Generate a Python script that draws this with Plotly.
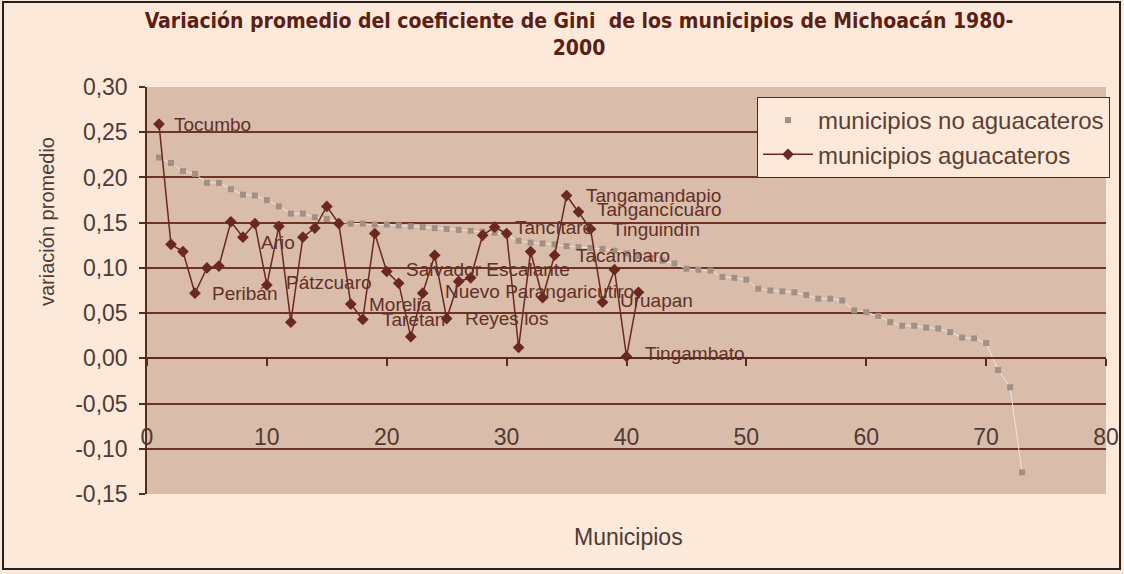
import plotly.graph_objects as go

# ---------------- data ----------------
avo_x = list(range(1, 42))
avo_y = [0.259, 0.126, 0.118, 0.072, 0.100, 0.102, 0.151, 0.134, 0.149, 0.081,
         0.146, 0.040, 0.134, 0.144, 0.168, 0.149, 0.060, 0.043, 0.138, 0.096,
         0.083, 0.024, 0.072, 0.114, 0.044, 0.085, 0.089, 0.136, 0.145, 0.138,
         0.012, 0.118, 0.067, 0.114, 0.180, 0.162, 0.143, 0.062, 0.098, 0.002,
         0.073]

noavo_x = list(range(1, 74))
noavo_y = [0.222, 0.216, 0.207, 0.204, 0.194, 0.194, 0.187, 0.181, 0.180, 0.175,
           0.168, 0.160, 0.160, 0.156, 0.154, 0.151, 0.149, 0.149, 0.148, 0.148,
           0.147, 0.146, 0.145, 0.144, 0.143, 0.142, 0.141, 0.140, 0.139, 0.136,
           0.130, 0.128, 0.127, 0.126, 0.124, 0.123, 0.122, 0.121, 0.119, 0.116,
           0.113, 0.111, 0.108, 0.105, 0.099, 0.098, 0.097, 0.090, 0.089, 0.087,
           0.077, 0.075, 0.074, 0.073, 0.070, 0.066, 0.066, 0.064, 0.053, 0.051,
           0.047, 0.040, 0.036, 0.036, 0.034, 0.033, 0.029, 0.023, 0.022, 0.017,
           -0.013, -0.032, -0.126]

# municipality names attached to avocado points (point number -> name)
label_points = [1, 4, 9, 10, 17, 18, 20, 23, 25, 29, 35, 36, 37, 34, 38, 40]
label_names = ["Tocumbo", "Peribán", "Ario", "Pátzcuaro", "Morelia", "Taretan",
               "Salvador Escalante", "Nuevo Parangaricutiro", "Reyes los",
               "Tancítaro", "Tangamandapio", "Tangancícuaro", "Tinguindín",
               "Tacámbaro", "Uruapan", "Tingambato"]

y_ticks = [-0.15, -0.10, -0.05, 0.00, 0.05, 0.10, 0.15, 0.20, 0.25, 0.30]
x_ticks = [0, 10, 20, 30, 40, 50, 60, 70, 80]

series_names = ["municipios no aguacateros", "municipios aguacateros"]
title_text = "Variación promedio del coeficiente de Gini  de los municipios de Michoacán 1980-<br>2000"
y_title = "variación promedio"
x_title = "Municipios"

# ---------------- style / layout ----------------
W, H = 1124, 574
ML, MR, MT, MB = 147, 18, 87, 80
PW, PH = W - ML - MR, H - MT - MB

PAPER = "#fde9d9"
PLOT = "#d9bcaa"
GRID = "#6e3426"
DARK = "#5a2a20"
AVO = "#6b2820"
GREY = "#a28f86"
TXT = "#4d3b35"
LBL = "#633027"
FONT = "Liberation Sans, Arial, sans-serif"
TFONT = "Liberation Sans Narrow, Arial Narrow, DejaVu Sans Condensed, Liberation Sans, sans-serif"

# per-label pixel offsets (text left edge relative to its point)
label_offsets = {
    "Tocumbo": (13, 0), "Peribán": (15, 0), "Ario": (4, -19), "Pátzcuaro": (17, 3),
    "Morelia": (16, 0), "Taretan": (17, 0), "Salvador Escalante": (17, 2),
    "Nuevo Parangaricutiro": (20, 2), "Reyes los": (16, 0), "Tancítaro": (18, 0),
    "Tangamandapio": (17, 0), "Tangancícuaro": (16, 2), "Tinguindín": (19, 0),
    "Tacámbaro": (19, 0), "Uruapan": (15, 2), "Tingambato": (16, 3),
}

def px_x(px):
    return (px - ML) / PW

def px_y(py):
    return (H - MB - py) / PH

fig = go.Figure()

fig.add_trace(go.Scatter(
    x=noavo_x, y=noavo_y, name=series_names[0], mode="lines+markers",
    line=dict(color="#f4e4d8", width=1),
    marker=dict(symbol="square", size=6, color=GREY),
))
fig.add_trace(go.Scatter(
    x=avo_x, y=avo_y, name=series_names[1], mode="lines+markers",
    line=dict(color=AVO, width=1.5),
    marker=dict(symbol="diamond", size=9, color=AVO),
))

annotations = []
for p, name in zip(label_points, label_names):
    dx, dy = label_offsets[name]
    annotations.append(dict(
        x=avo_x[p - 1], y=avo_y[p - 1], xref="x", yref="y", text=name,
        showarrow=False, xanchor="left", yanchor="middle", xshift=dx, yshift=dy,
        font=dict(family=FONT, size=19, color=LBL),
    ))

annotations.append(dict(
    x=px_x(628), y=px_y(537), xref="paper", yref="paper", text=x_title,
    showarrow=False, xanchor="center", yanchor="middle",
    font=dict(family=FONT, size=23, color=TXT),
))
annotations.append(dict(
    x=px_x(47), y=px_y(222), xref="paper", yref="paper", text=y_title,
    textangle=-90, showarrow=False, xanchor="center", yanchor="middle",
    font=dict(family=FONT, size=20, color=TXT),
))

shapes = [dict(
    type="rect", xref="paper", yref="paper",
    x0=px_x(3), x1=px_x(1120), y0=px_y(569), y1=px_y(2),
    line=dict(color="#222222", width=2), fillcolor="rgba(0,0,0,0)", layer="below",
)]

fig.update_layout(
    width=W, height=H,
    margin=dict(l=ML, r=MR, t=MT, b=MB, autoexpand=False),
    paper_bgcolor=PAPER, plot_bgcolor=PLOT,
    title=dict(text=title_text, x=579 / W, xanchor="center", xref="container",
               y=1 - 28 / H, yanchor="top",
               font=dict(family=TFONT, size=21, color="#5b1f16", weight="bold")),
    xaxis=dict(range=[0, 80], tickvals=x_ticks, ticktext=[str(v) for v in x_ticks],
               showgrid=False, zeroline=False, showline=True, linecolor=DARK, linewidth=1.5,
               ticks="outside", ticklen=7, tickcolor=DARK, tickwidth=1.5,
               anchor="free", position=(0 - (-0.15)) / (0.30 - (-0.15)),
               ticklabelstandoff=51,
               tickfont=dict(family=FONT, size=23, color=TXT)),
    yaxis=dict(range=[-0.15, 0.30], tickvals=y_ticks,
               ticktext=[("%.2f" % v).replace(".", ",") for v in y_ticks],
               showgrid=True, gridcolor=GRID, gridwidth=2, zeroline=False,
               showline=True, linecolor=DARK, linewidth=1.5,
               ticks="outside", ticklen=6, tickcolor=DARK, tickwidth=1.5,
               ticklabelstandoff=7,
               tickfont=dict(family=FONT, size=23, color=TXT)),
    legend=dict(x=px_x(757), y=px_y(97), xanchor="left", yanchor="top",
                bgcolor=PAPER, bordercolor="#4a2a22", borderwidth=1,
                font=dict(family=FONT, size=24, color="#5a4036"),
                itemwidth=50, tracegroupgap=0),
    showlegend=True,
    annotations=annotations,
    shapes=shapes,
)

fig.write_html("out.html", config={"displayModeBar": False},
               post_script="document.body.style.margin='0';document.body.style.overflow='hidden';")
